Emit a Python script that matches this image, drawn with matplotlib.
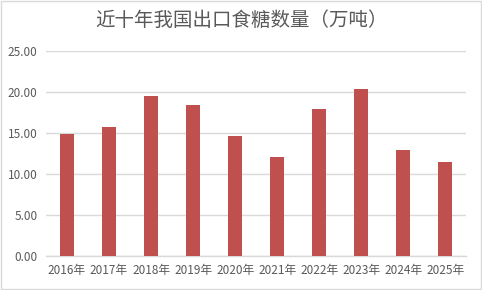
import matplotlib
matplotlib.use("Agg")
import matplotlib.pyplot as plt
from matplotlib.patches import Rectangle
from matplotlib.ticker import FormatStrFormatter

plt.rcParams['font.family'] = ['Noto Sans CJK SC', 'DejaVu Sans']

# data
years = ['2016年', '2017年', '2018年', '2019年', '2020年',
         '2021年', '2022年', '2023年', '2024年', '2025年']
exports = [14.9, 15.75, 19.5, 18.4, 14.65, 12.1, 17.95, 20.4, 12.9, 11.45]

BAR = '#c0504d'
TEXT = '#595959'
GRID = '#d9d9d9'

fig = plt.figure(figsize=(4.82, 2.9), dpi=100, facecolor='white')
ax = fig.add_axes([0.0954, 0.117, 0.872, 0.707])

x = range(len(years))
ax.bar(x, exports, width=0.34, color=BAR, zorder=3)

ax.set_xlim(-0.5, len(years) - 0.5)
ax.set_ylim(0, 25)
ax.set_yticks([0, 5, 10, 15, 20, 25])
ax.yaxis.set_major_formatter(FormatStrFormatter('%.2f'))
ax.set_xticks(list(x))
ax.set_xticklabels(years)

ax.grid(True, axis='y', color=GRID, linewidth=1, zorder=0)
for side in ['left', 'right', 'top']:
    ax.spines[side].set_visible(False)
ax.spines['bottom'].set_color(GRID)
ax.spines['bottom'].set_linewidth(1)
ax.tick_params(axis='both', length=0, labelsize=8.5, colors=TEXT, pad=6)

fig.text(0.5, 0.931, '近十年我国出口食糖数量（万吨）', ha='center', va='center',
         fontsize=14, color=TEXT)

# chart border
fig.patches.append(Rectangle((0.002, 0.003), 0.995, 0.993, transform=fig.transFigure,
                             fill=False, edgecolor=GRID, linewidth=1))

fig.savefig('out.png', dpi=100, facecolor='white')
